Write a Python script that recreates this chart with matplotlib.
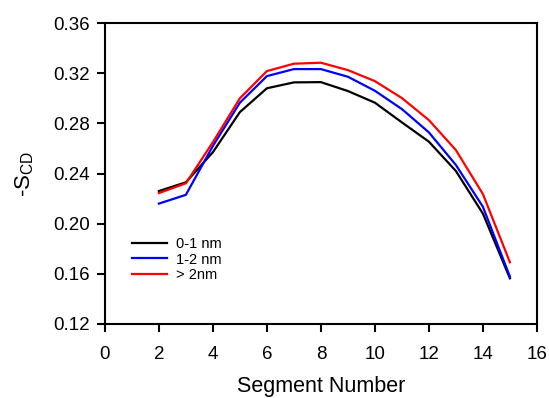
import matplotlib
matplotlib.use("Agg")
import matplotlib.pyplot as plt

plt.rcParams['font.family'] = ['Liberation Sans', 'DejaVu Sans']
plt.rcParams['mathtext.fontset'] = 'custom'
plt.rcParams['mathtext.rm'] = 'Liberation Sans'

segments = [2, 3, 4, 5, 6, 7, 8, 9, 10, 11, 12, 13, 14, 15]
s_0_1 = [0.226, 0.233, 0.257, 0.289, 0.308, 0.3127, 0.3129, 0.3058, 0.2965, 0.2808, 0.2654, 0.242, 0.208, 0.1564]
s_1_2 = [0.216, 0.223, 0.262, 0.2965, 0.3177, 0.3233, 0.3233, 0.3172, 0.306, 0.2914, 0.2728, 0.2468, 0.2135, 0.1577]
s_gt2 = [0.2244, 0.2322, 0.265, 0.300, 0.3217, 0.3276, 0.3284, 0.3225, 0.3137, 0.3002, 0.2826, 0.2587, 0.2236, 0.1692]
labels = ['0-1 nm', '1-2 nm', '> 2nm']
colors = ['black', 'blue', 'red']

fig = plt.figure(figsize=(5.49, 3.98), dpi=100)
ax = fig.add_axes([0.191, 0.186, 0.787, 0.756])

for y, lab, c in zip([s_0_1, s_1_2, s_gt2], labels, colors):
    ax.plot(segments, y, color=c, lw=1.6, label=lab)

ax.set_xlim(0, 16)
ax.set_ylim(0.12, 0.36)
ax.set_xticks(range(0, 17, 2))
ax.set_yticks([0.12, 0.16, 0.20, 0.24, 0.28, 0.32, 0.36])
ax.set_yticklabels(['%.2f' % v for v in [0.12, 0.16, 0.20, 0.24, 0.28, 0.32, 0.36]])
ax.tick_params(direction='out', length=6, width=1.5, labelsize=13.5, pad=5)
ax.tick_params(axis='x', pad=10)
for sp in ax.spines.values():
    sp.set_linewidth(1.5)

ax.set_xlabel('Segment Number', fontsize=15.5, labelpad=9)
ax.set_ylabel('-S$_{\\rm CD}$', fontsize=16, labelpad=12)

ax.legend(loc='lower left', bbox_to_anchor=(0.05, 0.12), frameon=False, fontsize=10.5,
          handlelength=2.4, handletextpad=0.6, labelspacing=0.1, borderaxespad=0)

fig.savefig('out.png', dpi=100)
